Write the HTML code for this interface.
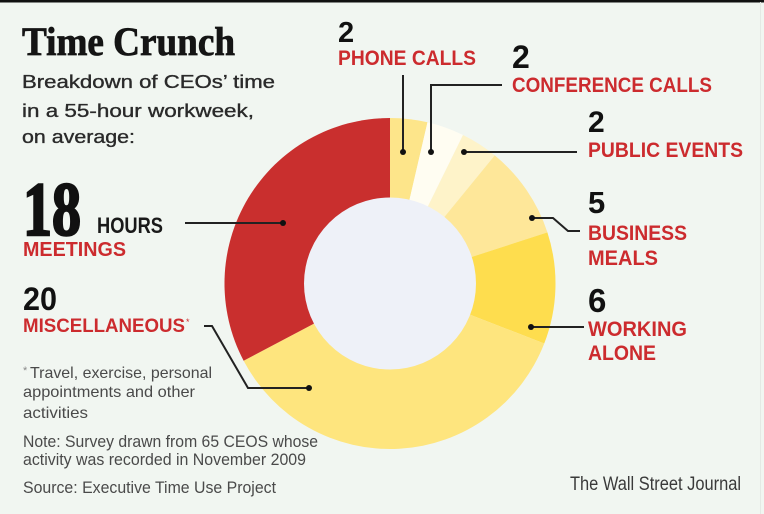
<!DOCTYPE html>
<html><head><meta charset="utf-8"><style>
html,body{margin:0;padding:0;background:#f1f6f1;}
svg{display:block;}
</style></head><body>
<svg width="764" height="514" viewBox="0 0 764 514" xmlns="http://www.w3.org/2000/svg">
<rect x="0" y="0" width="764" height="514" fill="#f1f6f1"/>
<rect x="0" y="0" width="764" height="2.5" fill="#111"/>
<rect x="760" y="2" width="1" height="512" fill="#e4e9e4"/>

<!-- donut wedges -->
<g stroke="none">
<path d="M390 283.5 L390 118 A165.5 165.5 0 0 1 427.49 122.30 Z" fill="#fde58a"/>
<path d="M390 283.5 L427.49 122.30 A165.5 165.5 0 0 1 463.02 134.98 Z" fill="#fffdf2"/>
<path d="M390 283.5 L463.02 134.98 A165.5 165.5 0 0 1 494.76 155.37 Z" fill="#fef3c9"/>
<path d="M390 283.5 L494.76 155.37 A165.5 165.5 0 0 1 547.40 232.36 Z" fill="#fee799"/>
<path d="M390 283.5 L547.40 232.36 A165.5 165.5 0 0 1 544.23 343.54 Z" fill="#fedd4e"/>
<path d="M390 283.5 L544.23 343.54 A165.5 165.5 0 0 1 243.62 360.74 Z" fill="#fee57e"/>
<path d="M390 283.5 L243.62 360.74 A165.5 165.5 0 0 1 390 118 Z" fill="#c92f2e"/>
</g>
<circle cx="390" cy="283.5" r="86" fill="#eef1f8"/>

<!-- leaders -->
<g stroke="#222" stroke-width="2" fill="none">
<line x1="403" y1="75" x2="403" y2="152"/>
<polyline points="431,152 431,85 502,85"/>
<line x1="464" y1="152" x2="577" y2="152"/>
<polyline points="532,218 553,218 568,231 580,231"/>
<line x1="531" y1="327" x2="584" y2="327"/>
<line x1="185" y1="223" x2="283" y2="223"/>
<polyline points="204,326 212,326 248,388 309,388"/>
</g>
<g fill="#111">
<circle cx="403" cy="152" r="3"/>
<circle cx="431" cy="152" r="3"/>
<circle cx="464" cy="152" r="3"/>
<circle cx="532" cy="218" r="3"/>
<circle cx="531" cy="327" r="3"/>
<circle cx="283" cy="223" r="3"/>
<circle cx="309" cy="388" r="3"/>
</g>

<!-- title -->
<text x="22" y="55" font-family="Liberation Serif, serif" font-weight="bold" font-size="40" fill="#151515" stroke="#151515" stroke-width="0.8" textLength="213" lengthAdjust="spacingAndGlyphs">Time Crunch</text>
<g font-family="Liberation Sans, sans-serif" font-size="18" fill="#2a2a2a" stroke="#2a2a2a" stroke-width="0.35">
<text x="22" y="88" textLength="253" lengthAdjust="spacingAndGlyphs">Breakdown of CEOs’ time</text>
<text x="22" y="117" textLength="232" lengthAdjust="spacingAndGlyphs">in a 55-hour workweek,</text>
<text x="22" y="143" textLength="113" lengthAdjust="spacingAndGlyphs">on average:</text>
</g>

<!-- meetings -->
<text x="23" y="235" font-family="Liberation Serif, serif" font-weight="bold" font-size="76" fill="#111" stroke="#111" stroke-width="2.5" textLength="58" lengthAdjust="spacingAndGlyphs">18</text>
<g font-family="Liberation Sans, sans-serif" font-weight="bold">
<text x="97" y="233" font-size="22" fill="#1a1a1a" textLength="66" lengthAdjust="spacingAndGlyphs">HOURS</text>
<text x="23" y="256" font-size="20" fill="#cc2b2e" textLength="103" lengthAdjust="spacingAndGlyphs">MEETINGS</text>

<!-- misc -->
<text x="23" y="310" font-size="32" fill="#111" textLength="34" lengthAdjust="spacingAndGlyphs">20</text>
<text x="23" y="332" font-size="19" fill="#cc2b2e" textLength="162" lengthAdjust="spacingAndGlyphs">MISCELLANEOUS</text>
<text x="186" y="325" font-size="9" font-weight="normal" fill="#cc2b2e">*</text>

<!-- right labels -->
<text x="338" y="42" font-size="29" fill="#111">2</text>
<text x="338" y="65" font-size="21" fill="#cc2b2e" textLength="138" lengthAdjust="spacingAndGlyphs">PHONE CALLS</text>
<text x="512" y="68" font-size="32" fill="#111">2</text>
<text x="512" y="92" font-size="21" fill="#cc2b2e" textLength="200" lengthAdjust="spacingAndGlyphs">CONFERENCE CALLS</text>
<text x="588" y="132" font-size="30" fill="#111">2</text>
<text x="588" y="157" font-size="21" fill="#cc2b2e" textLength="155" lengthAdjust="spacingAndGlyphs">PUBLIC EVENTS</text>
<text x="588" y="213" font-size="31" fill="#111">5</text>
<text x="588" y="240" font-size="21" fill="#cc2b2e" textLength="99" lengthAdjust="spacingAndGlyphs">BUSINESS</text>
<text x="588" y="265" font-size="21" fill="#cc2b2e" textLength="70" lengthAdjust="spacingAndGlyphs">MEALS</text>
<text x="588" y="312" font-size="33" fill="#111">6</text>
<text x="588" y="336" font-size="21" fill="#cc2b2e" textLength="99" lengthAdjust="spacingAndGlyphs">WORKING</text>
<text x="588" y="360" font-size="21" fill="#cc2b2e" textLength="68" lengthAdjust="spacingAndGlyphs">ALONE</text>
</g>

<!-- footnotes -->
<g font-family="Liberation Sans, sans-serif" fill="#4a4a4a" font-size="16">
<text x="23" y="374" font-size="11" fill="#888">*</text>
<text x="30" y="378" textLength="182" lengthAdjust="spacingAndGlyphs">Travel, exercise, personal</text>
<text x="23" y="397" textLength="172" lengthAdjust="spacingAndGlyphs">appointments and other</text>
<text x="23" y="418" textLength="65" lengthAdjust="spacingAndGlyphs">activities</text>
<text x="23" y="447" font-size="17" textLength="295" lengthAdjust="spacingAndGlyphs">Note: Survey drawn from 65 CEOS whose</text>
<text x="23" y="465" font-size="17" textLength="283" lengthAdjust="spacingAndGlyphs">activity was recorded in November 2009</text>
<text x="23" y="493" font-size="17" textLength="253" lengthAdjust="spacingAndGlyphs">Source: Executive Time Use Project</text>
<text x="570" y="490" font-size="19" fill="#3a3a3a" textLength="171" lengthAdjust="spacingAndGlyphs">The Wall Street Journal</text>
</g>
</svg>
</body></html>
